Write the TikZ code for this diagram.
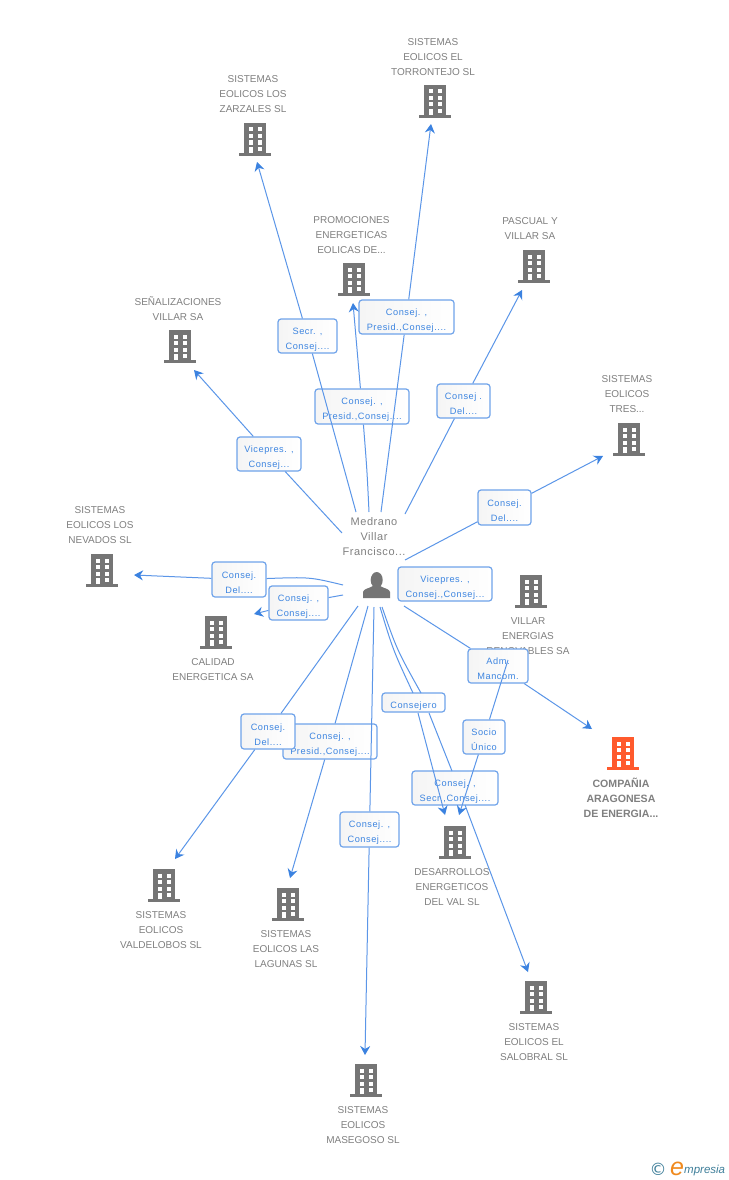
\documentclass[tikz,border=0pt]{standalone}
\usepackage{fontspec}
\setmainfont{Liberation Sans}
\newfontfamily\lblfont[LetterSpace=6]{Liberation Sans}
\newfontfamily\persfont[LetterSpace=5]{Liberation Sans}
\newfontfamily\symfont{DejaVu Sans}
\usetikzlibrary{arrows.meta}
\newcommand{\tallfirst}{\rule{0pt}{13pt}}
\definecolor{icongray}{HTML}{757575}
\definecolor{iconorange}{HTML}{FF5A2D}
\definecolor{txtgray}{HTML}{808080}
\definecolor{edgeblue}{HTML}{5B96E8}
\definecolor{tipblue}{HTML}{3B82E0}
\definecolor{lblblue}{HTML}{3D85E0}
\definecolor{boxline}{HTML}{6FA3EA}
\definecolor{logoteal}{HTML}{3F7F9A}
\definecolor{logoorange}{HTML}{F08A1E}
\tikzset{
  pics/bldg/.style={code={
    \fill[#1] (-11,-17) rectangle (11,13);
    \fill[#1] (-16,13) rectangle (16,16);
    \foreach \yy in {-12.5,-6,0.5}{
      \fill[white] (-6.5,\yy) rectangle (-2,\yy+4);
      \fill[white] (2.5,\yy) rectangle (7,\yy+4);
    }
    \fill[white] (-6.5,7) rectangle (-2,13);
    \fill[white] (2.5,7) rectangle (7,11);
  }},
  bname/.style={text=txtgray,align=center,inner sep=0pt,font=\fontsize{10}{15}\selectfont},
  lbox/.style 2 args={draw=boxline,line width=1.2pt,rounded corners=3pt,left color=black!4,right color=white,
    text=lblblue,align=center,inner sep=0pt,minimum width=#1,minimum height=#2,
    font=\lblfont\fontsize{9.2}{15}\selectfont},
  edge/.style={draw=edgeblue,line width=1pt},
  arr/.style={edge,-{Stealth[length=9pt,width=10pt,inset=3pt,color=tipblue]}},
}
\begin{document}
\begin{tikzpicture}[x=1pt,y=-1pt]
\useasboundingbox (0,0) rectangle (728,1180);
\fill[white] (0,0) rectangle (728,1180);

% building icons
\pic at (435,102) {bldg=icongray};
\pic at (255,140) {bldg=icongray};
\pic at (354,280) {bldg=icongray};
\pic at (534,267) {bldg=icongray};
\pic at (180,347) {bldg=icongray};
\pic at (629,440) {bldg=icongray};
\pic at (102,571) {bldg=icongray};
\pic at (216,633) {bldg=icongray};
\pic at (531,592) {bldg=icongray};
\pic at (623,754) {bldg=iconorange};
\pic at (455,843) {bldg=icongray};
\pic at (164,886) {bldg=icongray};
\pic at (288,905) {bldg=icongray};
\pic at (536,998) {bldg=icongray};
\pic at (366,1081) {bldg=icongray};

% person icon
\fill[icongray] (376.7,580) ellipse (6 and 8);
\fill[icongray] (363,598) -- (363,592) .. controls (363,589) and (370,588) .. (373,586)
  -- (380,586) .. controls (383,588) and (390,589) .. (390,592) -- (390,598) -- cycle;

% building names
\node[bname] (nTorr) at (433,57) {SISTEMAS\\EOLICOS EL\\TORRONTEJO SL};
\node[bname] (nZarz) at (253,94) {SISTEMAS\\EOLICOS LOS\\ZARZALES SL};
\node[bname] (nProm) at (351.5,235) {PROMOCIONES\\ENERGETICAS\\EOLICAS DE...};
\node[bname] (nPasc) at (530,229) {PASCUAL Y\\VILLAR SA};
\node[bname] (nSena) at (178,309) {SEÑALIZACIONES\\VILLAR SA};
\node[bname] (nTres) at (627,394) {SISTEMAS\\EOLICOS\\TRES...};
\node[bname] (nNeva) at (100,525) {SISTEMAS\\EOLICOS LOS\\NEVADOS SL};
\node[bname] (nCali) at (213,670) {CALIDAD\\ENERGETICA SA};
\node[bname] (nVill) at (528,636) {VILLAR\\ENERGIAS\\RENOVABLES SA};
\node[bname,font=\bfseries\fontsize{10.6}{15}\selectfont] (nComp) at (621,798) {COMPAÑIA\\ARAGONESA\\DE ENERGIA...};
\node[bname] (nDesa) at (452,887) {DESARROLLOS\\ENERGETICOS\\DEL VAL SL};
\node[bname] (nVald) at (161,930) {SISTEMAS\\EOLICOS\\VALDELOBOS SL};
\node[bname] (nLagu) at (286,949) {SISTEMAS\\EOLICOS LAS\\LAGUNAS SL};
\node[bname] (nSalo) at (534,1042) {SISTEMAS\\EOLICOS EL\\SALOBRAL SL};
\node[bname] (nMase) at (363,1125) {SISTEMAS\\EOLICOS\\MASEGOSO SL};
\node[bname,font=\persfont\fontsize{11}{15}\selectfont] (nMedr) at (374,537) {Medrano\\Villar\\Francisco...};

% connector labels
\node[lbox={59pt}{34pt}] (lZarz) at (307.5,336) {\tallfirst Secr. ,\\Consej....};
\node[lbox={95pt}{34pt}] (lTorr) at (406.5,317) {\tallfirst Consej. ,\\Presid.,Consej....};
\node[lbox={94pt}{35pt}] (lProm) at (362,406.5) {\tallfirst Consej. ,\\Presid.,Consej....};
\node[lbox={53pt}{34pt}] (lPasc) at (463.5,401) {\tallfirst Consej .\\Del....};
\node[lbox={64pt}{34pt}] (lSena) at (269,454) {\tallfirst Vicepres. ,\\Consej...};
\node[lbox={53pt}{35pt}] (lTres) at (504.5,507.5) {\tallfirst Consej.\\Del....};
\node[lbox={54pt}{35pt}] (lNeva) at (239,579.5) {\tallfirst Consej.\\Del....};
\node[lbox={59pt}{34pt}] (lCali) at (298.5,603) {\tallfirst Consej. ,\\Consej....};
\node[lbox={94pt}{34pt}] (lVill) at (445,584) {\tallfirst Vicepres. ,\\Consej.,Consej...};
\node[lbox={60pt}{34pt}] (lComp) at (498,666) {\tallfirst Adm.\\Mancom.};
\node[lbox={63pt}{19pt}] (lDesa) at (413.5,702.5) {\tallfirst Consejero};
\node[lbox={42pt}{34pt}] (lSoci) at (484,737) {\tallfirst Socio\\Único};
\node[lbox={86pt}{34pt}] (lSalo) at (455,788) {\tallfirst Consej. ,\\Secr.,Consej....};
\node[lbox={94pt}{35pt}] (lLagu) at (330,741.5) {\tallfirst Consej. ,\\Presid.,Consej....};
\node[lbox={54pt}{35pt}] (lVald) at (268,731.5) {\tallfirst Consej.\\Del....};
\node[lbox={59pt}{35pt}] (lMase) at (369.5,829.5) {\tallfirst Consej. ,\\Consej....};

% connector ends
\coordinate (sZarz) at (356,512); \coordinate (tZarz) at (257,162);
\coordinate (sTorr) at (381,512); \coordinate (tTorr) at (431,124);
\coordinate (sProm) at (369,512); \coordinate (tProm) at (353,303);
\coordinate (sPasc) at (405,514); \coordinate (tPasc) at (522,290);
\coordinate (sSena) at (342,533); \coordinate (tSena) at (194,370);
\coordinate (sTres) at (405,560); \coordinate (tTres) at (603,456);
\coordinate (sNeva) at (343,585); \coordinate (tNeva) at (134,575);
\coordinate (sCali) at (343,595); \coordinate (tCali) at (254,614);
\coordinate (sMase) at (374,607); \coordinate (tMase) at (365,1055);
\coordinate (sLagu) at (368,606); \coordinate (tLagu) at (290,878);
\coordinate (sVald) at (358,606); \coordinate (tVald) at (175,859);
\coordinate (sComp) at (404,606); \coordinate (tComp) at (592,729);
\coordinate (sDesa) at (380,607); \coordinate (aDesa) at (413,693);
\coordinate (bDesa) at (418,713); \coordinate (tDesa) at (445,815);
\coordinate (sSalo) at (382,607); \coordinate (aSalo) at (421,693);
\coordinate (bSalo) at (429,713); \coordinate (cSalo) at (452,771);
\coordinate (dSalo) at (465,805); \coordinate (tSalo) at (528,972);
\coordinate (sSoci) at (508,660); \coordinate (tSoci) at (459,815);

% connectors
\draw[arr] (sZarz) -- (lZarz) -- (tZarz);
\draw[arr] (sTorr) -- (lTorr) -- (tTorr);
\draw[arr] (sProm) .. controls (367,470) .. (lProm) -- (tProm);
\draw[arr] (sPasc) -- (lPasc) -- (tPasc);
\draw[arr] (sSena) -- (lSena) -- (tSena);
\draw[arr] (sTres) -- (lTres) -- (tTres);
\draw[arr] (sNeva) .. controls (310,577) .. (lNeva) -- (tNeva);
\draw[arr] (sCali) -- (lCali) -- (tCali);
\draw[arr] (sMase) -- (lMase) -- (tMase);
\draw[arr] (sLagu) -- (lLagu) -- (tLagu);
\draw[arr] (sVald) -- (lVald) -- (tVald);
\draw[arr] (sComp) -- (lComp) -- (tComp);
\draw[edge] (sDesa) .. controls (393,650) .. (aDesa);
\draw[arr] (bDesa) -- (tDesa);
\draw[edge] (sSalo) .. controls (397,650) .. (aSalo);
\draw[edge] (bSalo) -- (cSalo);
\draw[arr] (dSalo) -- (tSalo);
\draw[arr] (sSoci) -- (lSoci) -- (tSoci);

% logo
\node[inner sep=0pt,text=logoteal,font=\symfont\fontsize{17}{17}\selectfont] (logoC) at (658,1169) {©};
\node[inner sep=0pt,anchor=base,text=logoorange,font=\itshape\fontsize{25}{25}\selectfont] (logoE) at (677,1175) {e};
\node[inner sep=0pt,anchor=base west,text=logoteal,font=\itshape\fontsize{11.5}{13}\selectfont] (logoM) at (684,1173) {mpresia};
\end{tikzpicture}
\end{document}
